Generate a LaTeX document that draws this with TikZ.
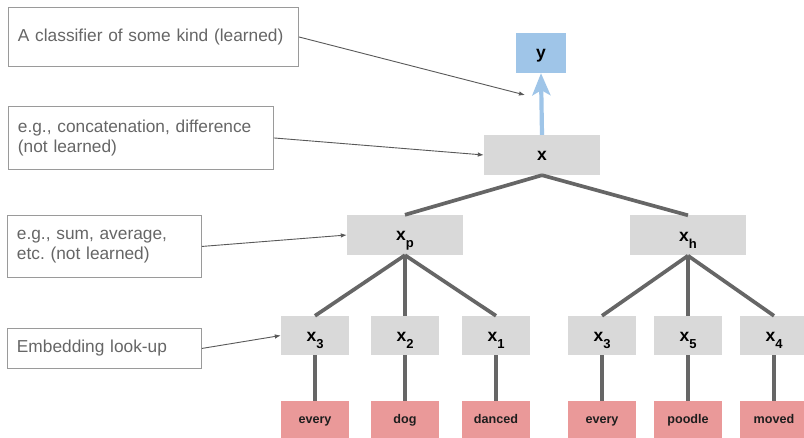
\documentclass[tikz,border=0pt]{standalone}
\usepackage{fontspec}
\setmainfont{Liberation Sans}
\usetikzlibrary{arrows.meta}
\frenchspacing

\definecolor{boxgray}{HTML}{D9D9D9}
\definecolor{wordred}{HTML}{EA9999}
\definecolor{outblue}{HTML}{9FC5E8}
\definecolor{edgegray}{HTML}{666666}
\definecolor{notegray}{HTML}{666666}
\definecolor{noteframe}{HTML}{9A9A9A}
\definecolor{pointer}{HTML}{595959}
\definecolor{wordink}{HTML}{1E1E1E}

% bold vector name with a lowered index
\newcommand{\vecsym}[2]{#1\raisebox{-7pt}{\fontsize{13}{13}\selectfont #2}}

\begin{document}
\begin{tikzpicture}[x=1pt,y=-1pt,
  vecnode/.style={fill=boxgray, minimum width=68pt, minimum height=39pt,
    inner sep=0pt, text height=12pt, text depth=0pt,
    font=\fontsize{17.5}{17.5}\selectfont\bfseries},
  widevec/.style={vecnode, minimum width=116pt, minimum height=40pt},
  outnode/.style={vecnode, fill=outblue, minimum width=50pt, minimum height=40pt},
  wordnode/.style={fill=wordred, minimum width=68pt, minimum height=39pt,
    inner sep=0pt, text height=7pt, text depth=0pt, text=wordink,
    font=\fontsize{12.6}{12.6}\selectfont\bfseries},
  note/.style={draw=noteframe, line width=0.9pt, anchor=north west,
    inner xsep=9.5pt, inner ysep=0pt, align=left, text=notegray,
    font=\fontsize{17.3}{20.5}\selectfont},
  treeedge/.style={draw=edgegray, line width=3.7pt},
  pointerarrow/.style={draw=pointer, line width=0.9pt,
    -{Latex[length=6pt,width=4.5pt]}},
  outarrow/.style={draw=outblue, line width=4.2pt,
    -{Stealth[length=22pt,width=18pt,inset=5pt]}}
]
\clip (0,0) rectangle (804,438);
\fill[white] (0,0) rectangle (804,438);

% output and combined representation
\node[outnode] (y) at (541,53) {y};
\node[widevec] (x) at (542,155) {x};

% phrase-level vectors
\node[widevec] (xp) at (405,235) {\vecsym{x}{p}};
\node[widevec] (xh) at (688,235.5) {\vecsym{x}{h}};

% word vectors
\node[vecnode] (xa3) at (315,335.5) {\vecsym{x}{3}};
\node[vecnode] (xa2) at (405,335.5) {\vecsym{x}{2}};
\node[vecnode] (xa1) at (496,335.5) {\vecsym{x}{1}};
\node[vecnode] (xb3) at (602,335.5) {\vecsym{x}{3}};
\node[vecnode] (xb5) at (688,335.5) {\vecsym{x}{5}};
\node[vecnode] (xb4) at (774,335.5) {\vecsym{x}{4}};

% input words
\node[wordnode] (wa3) at (315,420.5) {every};
\node[wordnode] (wa2) at (405,420.5) {dog};
\node[wordnode] (wa1) at (496,420.5) {danced};
\node[wordnode] (wb3) at (602,420.5) {every};
\node[wordnode] (wb5) at (688,420.5) {poodle};
\node[wordnode] (wb4) at (774,420.5) {moved};

% tree edges
\path[treeedge] (x.south) -- (xp.north);
\path[treeedge] (x.south) -- (xh.north);
\foreach \c in {xa3,xa2,xa1} \path[treeedge] (xp.south) -- (\c.north);
\foreach \c in {xb3,xb5,xb4} \path[treeedge] (xh.south) -- (\c.north);
\foreach \i in {a3,a2,a1,b3,b5,b4} \path[treeedge] (x\i.south) -- (w\i.north);

% classifier output
\draw[outarrow] (x.north) -- (y.south);

% explanatory notes
\node[note, text width=271pt, minimum height=59pt] (n1) at (8,7)
  {A classifier of some kind (learned)};
\node[note, text width=246pt, minimum height=63pt] (n2) at (8,106)
  {e.g., concatenation, difference\\(not learned)};
\node[note, text width=175pt, minimum height=62pt] (n3) at (7,215)
  {e.g., sum, average,\\etc. (not learned)};
\node[note, text width=175pt, minimum height=40pt] (n4) at (7,328)
  {Embedding look-up};

\coordinate (clf) at (525,95);
\draw[pointerarrow] (n1.east) -- (clf);
\draw[pointerarrow] (n2.east) -- (x.west);
\draw[pointerarrow] (n3.east) -- (xp.west);
\draw[pointerarrow] (n4.east) -- (xa3.west);
\end{tikzpicture}
\end{document}
